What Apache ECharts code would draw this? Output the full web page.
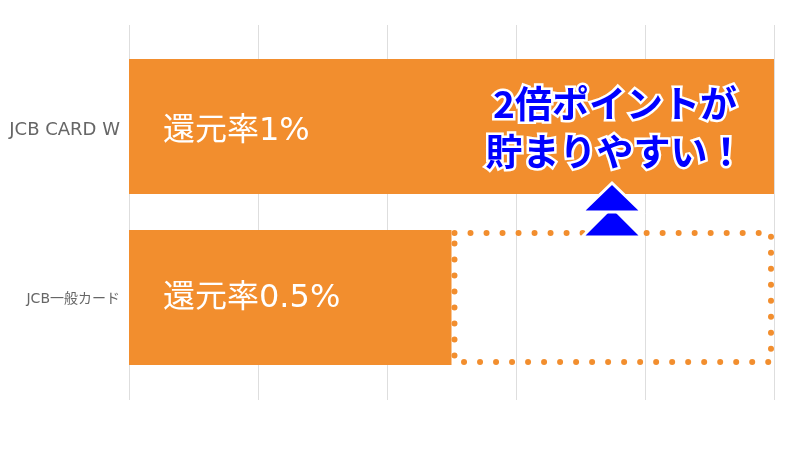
<script src="https://cdn.jsdelivr.net/npm/echarts@6/dist/echarts.min.js"></script>
<div id="main" style="width:800px;height:450px;margin:0;padding:0;"></div>
<style>body{margin:0;background:#fff;}</style>
<script>
    // カードごとの還元率（%）
    var cards = ['JCB CARD W', 'JCB一般カード'];
    var rates = [1, 0.5];
    var ratePrefix = '還元率';
    // 一般カードとの差（点線の枠）
    var gap = ['-', 0.5];

    var orange = '#F28E2E';
    var latin = '"DejaVu Sans", "Noto Sans CJK JP", sans-serif';

    var myChart = echarts.init(document.getElementById('main'));

    // 上のバーのラベルは少し下に
    var rateData = rates.map(function (v, i) {
        return { value: v, label: { offset: [0, i === 0 ? 5 : 1] } };
    });

    var option = {
        backgroundColor: '#fff',
        animation: false,
        grid: [
            { left: 129, right: 26, top: 25, bottom: 50 },
            { left: 129, right: 26, top: 41, bottom: 67 }
        ],
        xAxis: [
            {
                type: 'value', gridIndex: 0, min: 0, max: 1, interval: 0.2,
                axisLabel: { show: false }, axisLine: { show: false }, axisTick: { show: false },
                splitLine: { show: true, lineStyle: { color: '#dedede', width: 1 } }
            },
            {
                type: 'value', gridIndex: 1, min: 0, max: 1, interval: 0.2,
                axisLabel: { show: false }, axisLine: { show: false }, axisTick: { show: false },
                splitLine: { show: false }
            }
        ],
        yAxis: [
            {
                type: 'category', gridIndex: 0, data: cards, inverse: true,
                axisLabel: { show: false }, axisLine: { show: false }, axisTick: { show: false }
            },
            {
                type: 'category', gridIndex: 1, data: cards, inverse: true,
                axisLine: { show: false }, axisTick: { show: false },
                axisLabel: {
                    margin: 9,
                    color: '#666',
                    fontFamily: latin,
                    formatter: function (v, i) {
                        return i === 0 ? '{a|' + v + '}' : '{b|' + v + '}';
                    },
                    rich: {
                        a: { fontSize: 18, color: '#666', fontFamily: latin, padding: [8, 0, 0, 0] },
                        b: { fontSize: 14, color: '#666', fontFamily: latin, padding: [4, 0, 0, 0] }
                    }
                }
            }
        ],
        series: [
            {
                type: 'bar',
                xAxisIndex: 1, yAxisIndex: 1,
                stack: 'rate',
                barWidth: 135,
                data: rateData,
                itemStyle: { color: orange },
                label: {
                    show: true,
                    position: 'insideLeft',
                    distance: 34,
                    color: '#fff',
                    fontSize: 32,
                    fontFamily: latin,
                    formatter: function (p) {
                        return ratePrefix + p.value + '%';
                    }
                }
            },
            {
                type: 'bar',
                xAxisIndex: 1, yAxisIndex: 1,
                stack: 'rate',
                barWidth: 135,
                data: gap,
                itemStyle: {
                    color: 'rgba(0,0,0,0)',
                    borderColor: orange,
                    borderWidth: 6,
                    borderType: [0.01, 16],
                    borderCap: 'round'
                },
                z: 3
            }
        ],
        graphic: [
            {
                type: 'polygon', z: 100,
                shape: { points: [[612, 207], [642, 237], [582, 237]] },
                style: { fill: '#0000FF', stroke: '#fff', lineWidth: 3 }
            },
            {
                type: 'polygon', z: 101,
                shape: { points: [[612, 183], [642, 212], [582, 212]] },
                style: { fill: '#0000FF', stroke: '#fff', lineWidth: 3 }
            },
            {
                type: 'text', z: 102,
                x: 615, y: 128,
                style: {
                    text: '2倍ポイントが\n貯まりやすい！',
                    fill: '#0000FF',
                    stroke: '#fff',
                    lineWidth: 5,
                    font: 'bold 37px "Noto Sans CJK JP", sans-serif',
                    lineHeight: 48,
                    align: 'center',
                    verticalAlign: 'middle'
                }
            }
        ]
    };

    myChart.setOption(option);

    window.onresize = function () {
        myChart.resize();
    };
</script>
